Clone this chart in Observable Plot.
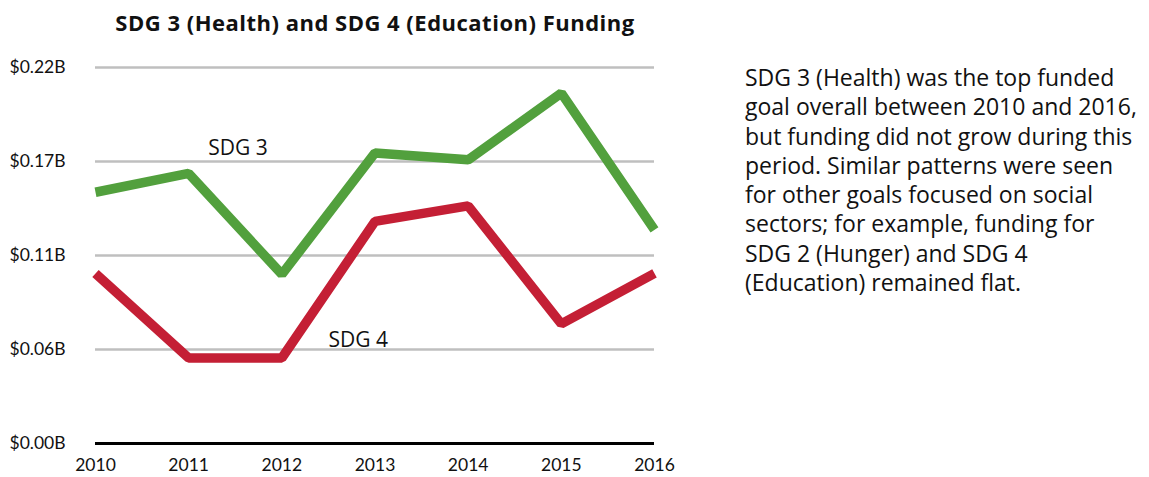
<!DOCTYPE html>
<html>
<head>
<meta charset="utf-8">
<script src="https://cdn.jsdelivr.net/npm/d3@7"></script>
<script src="https://cdn.jsdelivr.net/npm/@observablehq/plot@0.6"></script>
<style>
  html, body { margin: 0; padding: 0; background: #fff; }
  body { width: 1149px; height: 477px; position: relative; overflow: hidden; font-family: "Open Sans", Lato, sans-serif; color: #111; }
  #title { position: absolute; left: 0; width: 750px; top: 7px; text-align: center; font-weight: 700; font-size: 22px; letter-spacing: 0.5px; }
  #chart { position: absolute; left: 0; top: 40px; }
  #note { position: absolute; left: 745px; top: 63px; font-size: 23px; line-height: 29.3px; color: #111; white-space: nowrap; }
</style>
</head>
<body>
<div id="title">SDG 3 (Health) and SDG 4 (Education) Funding</div>
<div id="chart"></div>
<div id="note">SDG 3 (Health) was the top funded<br>goal overall between 2010 and 2016,<br>but funding did not grow during this<br>period. Similar patterns were seen<br>for other goals focused on social<br>sectors; for example, funding for<br>SDG 2 (Hunger) and SDG 4<br>(Education) remained flat.</div>
<script>
const years = [2010, 2011, 2012, 2013, 2014, 2015, 2016];
const sdg3 = [0.147, 0.158, 0.099, 0.170, 0.166, 0.205, 0.125];
const sdg4 = [0.0995, 0.050, 0.050, 0.130, 0.139, 0.070, 0.0995];
const yTicks = [0, 0.055, 0.11, 0.165, 0.22];
const yTickLabels = ["$0.00B", "$0.06B", "$0.11B", "$0.17B", "$0.22B"];
const seriesNames = ["SDG 3", "SDG 4"];
const seriesColors = ["#52a03d", "#c41f35"];

const rows = [];
years.forEach((yr, i) => {
  rows.push({year: yr, value: sdg3[i], series: seriesNames[0]});
  rows.push({year: yr, value: sdg4[i], series: seriesNames[1]});
});
const labels = [
  {year: 2011.53, value: 0.1728, text: seriesNames[0]},
  {year: 2012.82, value: 0.0604, text: seriesNames[1]}
];

const chart = Plot.plot({
  width: 700,
  height: 437,
  marginLeft: 95,
  marginRight: 46,
  marginTop: 27,
  marginBottom: 34,
  style: {fontFamily: "Lato, sans-serif", fontSize: "17px", color: "#111", background: "transparent"},
  x: {domain: [2010, 2016], ticks: years, tickFormat: d => String(d)},
  y: {domain: [0, 0.22]},
  color: {domain: seriesNames, range: seriesColors},
  marks: [
    Plot.ruleY(yTicks.slice(1), {stroke: "#bfbfbf", strokeWidth: 2.5}),
    Plot.ruleY([0], {stroke: "#000", strokeWidth: 3}),
    Plot.axisY({ticks: yTicks, tickSize: 0, tickPadding: 0, textAnchor: "start", dx: -86, tickFormat: (d, i) => yTickLabels[i], label: null, fontSize: 17.5}),
    Plot.axisX({ticks: years, tickSize: 0, tickPadding: 15, tickFormat: d => String(d), label: null, fontSize: 17.5}),
    Plot.lineY(rows, {x: "year", y: "value", z: "series", stroke: "series", strokeWidth: 9.5, strokeLinejoin: "miter", strokeLinecap: "butt"}),
    Plot.text(labels, {x: "year", y: "value", text: "text", fontSize: 21, fontFamily: "Open Sans, sans-serif", fill: "#111"})
  ]
});
document.getElementById("chart").appendChild(chart);
</script>
</body>
</html>
